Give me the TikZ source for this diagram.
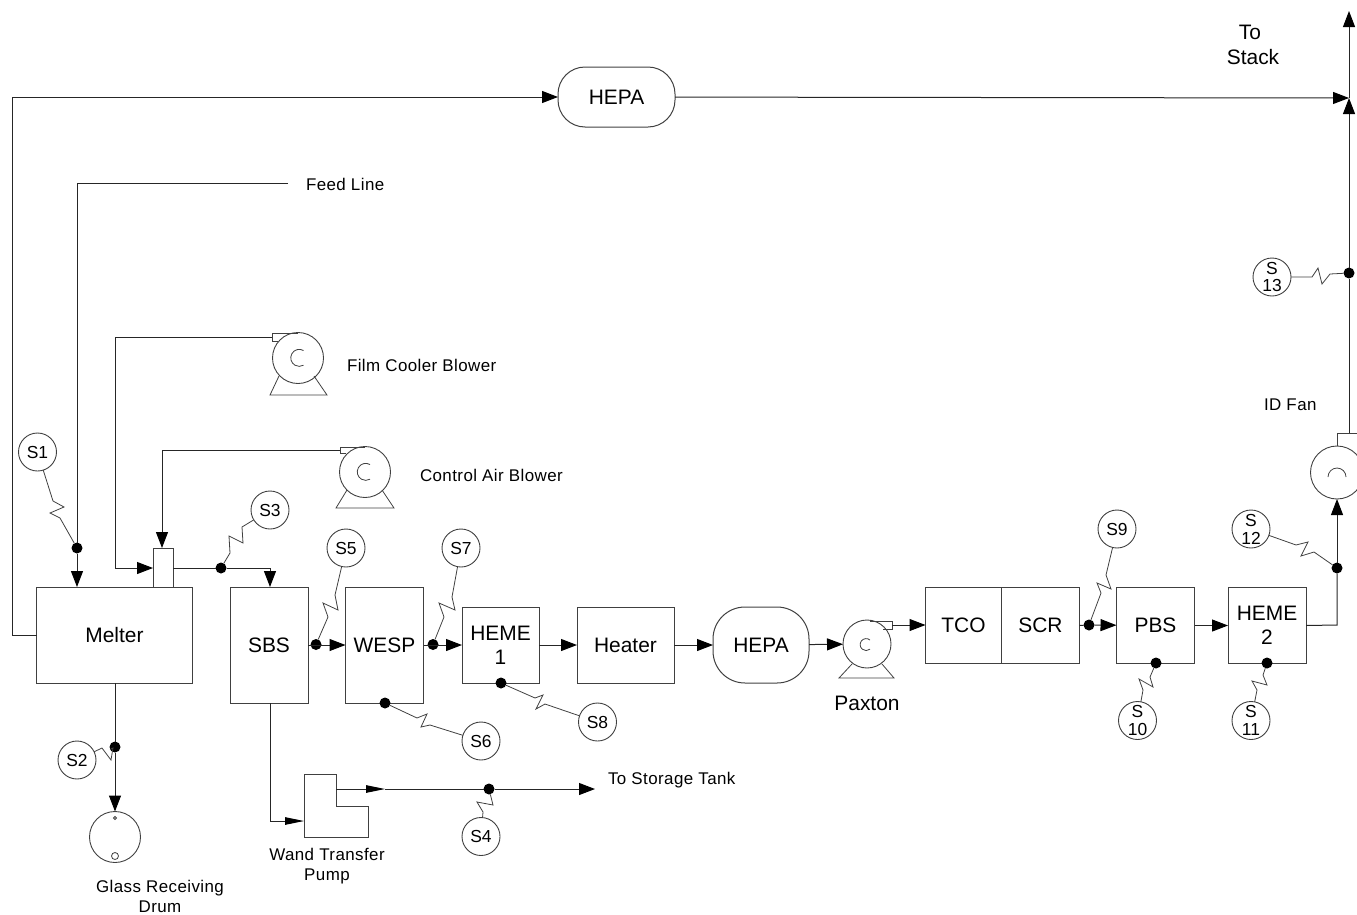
\documentclass[tikz,border=0pt]{standalone}
\usepackage{fontspec}
\setmainfont{Liberation Sans}
\newfontfamily\lblfont[LetterSpace=2.5]{Liberation Sans}
\usetikzlibrary{arrows.meta}
\definecolor{ln}{gray}{0.25}
\tikzset{
  x=1bp,y=-1bp,
  every node/.style={inner sep=0pt,outer sep=0pt},
  big/.style={font=\fontsize{21}{24.5}\selectfont,align=center},
  small/.style={font=\lblfont\fontsize{17}{20}\selectfont,align=center},
  unit/.style={draw=ln,line width=1bp,big,text=black},
  hepaA/.style={unit,minimum width=117bp,minimum height=60bp,rounded corners=27bp},
  hepaB/.style={unit,minimum width=96bp,minimum height=76bp,rounded corners=32bp},
  samp/.style={draw=ln,circle,line width=.9bp,minimum size=38bp,font=\fontsize{17.5}{18}\selectfont,align=center,text=black},
  dotn/.style={circle,fill=black,minimum size=11bp},
  pipe/.style={draw=black!85,line width=1bp},
  flow/.style={pipe,-{Triangle[length=16bp,width=12bp,black]}},
  flowlong/.style={pipe,-{Triangle[length=19bp,width=7.5bp,black]}},
  probe/.style={draw=ln,line width=.8bp,line join=miter},
  blowbody/.style={draw=ln,line width=.9bp,circle},
  thin/.style={draw=ln,line width=.8bp},
}
\begin{document}
\begin{tikzpicture}
\useasboundingbox (0,0) rectangle (1357,914);

% --- equipment boxes
\node[unit,minimum width=155bp,minimum height=96bp] (melter) at (114.5,635) {Melter};
\node[unit,minimum width=78bp,minimum height=116bp] (sbs) at (269,645) {SBS};
\node[unit,minimum width=78bp,minimum height=116bp] (wesp) at (384.5,645) {WESP};
\node[unit,minimum width=77bp,minimum height=76bp] (heme1) at (500.5,645) {HEME\\1};
\node[unit,minimum width=97bp,minimum height=76bp] (heater) at (625.5,645) {Heater};
\node[hepaB] (hepab) at (761,645) {HEPA};
\node[hepaA] (hepaa) at (616.5,97) {HEPA};
\node[unit,minimum width=76bp,minimum height=76bp] (tco) at (963.5,625.5) {TCO};
\node[unit,minimum width=78bp,minimum height=76bp] (scr) at (1040.5,625.5) {SCR};
\node[unit,minimum width=78bp,minimum height=76bp] (pbs) at (1155.5,625.5) {PBS};
\node[unit,minimum width=78bp,minimum height=76bp] (heme2) at (1267,625.5) {HEME\\2};
\node[draw=ln,line width=1bp,minimum width=20bp,minimum height=39bp] (stub) at (163,567.5) {};

% --- wand transfer pump
\draw[thin,line width=1bp] (304,774) -- (336,774) -- (336,806) -- (368,806) -- (368,837) -- (304,837) -- cycle;
\coordinate (pumpin) at (304,821);
\coordinate (pumpout) at (336,789);

% --- drum
\node[blowbody,minimum size=51bp] (drum) at (115,837) {};
\node[thin,circle,minimum size=3bp] (drumA) at (115,818) {};
\node[thin,circle,minimum size=7bp] (drumB) at (115,856) {};

% --- blowers
\node[blowbody,minimum size=51bp] (film) at (298,358) {};
\draw[thin] (298,333) -- (272,333) -- (272,341) -- (278,341);
\draw[thin] (303.5,350.5) arc[start angle=60,end angle=300,radius=8.5bp];
\draw[thin] (279,376) -- (270,395) -- (327,395) -- (314,376);
\coordinate (filmout) at (272,337);

\node[blowbody,minimum size=51bp] (ctrl) at (365,472) {};
\draw[thin] (365,447) -- (340,447) -- (340,453.5) -- (346,453.5);
\draw[thin] (370,464.5) arc[start angle=60,end angle=300,radius=8.5bp];
\draw[thin] (347,490) -- (336,508) -- (394,508) -- (382,490);
\coordinate (ctrlout) at (340,450);

\node[blowbody,minimum size=48bp] (paxton) at (867,644) {};
\draw[thin] (870,621) -- (892,621) -- (892,629) -- (883,629);
\draw[thin] (870,640) arc[start angle=50,end angle=310,radius=6bp];
\draw[thin] (852,664) -- (839,678) -- (894,678) -- (882,664);
\coordinate (paxout) at (892,625);

\node[blowbody,minimum size=53bp] (idfan) at (1337,472.5) {};
\draw[thin,line width=1bp] (1337,446) -- (1337,433) -- (1357,433);
\draw[thin] (1328,477) arc[start angle=180,end angle=0,radius=9bp];
\coordinate (fanout) at (1349,433);

% --- junction dots
\node[dotn] (d1) at (77,548) {};
\node[dotn] (d2) at (115,747) {};
\node[dotn] (d3) at (221,568) {};
\node[dotn] (d4) at (489,789) {};
\node[dotn] (d5) at (316,644.5) {};
\node[dotn] (d6) at (385,703) {};
\node[dotn] (d7) at (433,644.5) {};
\node[dotn] (d8) at (501,683) {};
\node[dotn] (d9) at (1089,625) {};
\node[dotn] (d10) at (1156,663) {};
\node[dotn] (d11) at (1267,663) {};
\node[dotn] (d12) at (1337,568) {};
\node[dotn] (d13) at (1349,273) {};

% --- sample circles
\node[samp] (s1) at (37.5,452) {S1};
\node[samp] (s2) at (77,760) {S2};
\node[samp] (s3) at (270,510) {S3};
\node[samp] (s4) at (481,836.5) {S4};
\node[samp] (s5) at (346,548) {S5};
\node[samp] (s6) at (481,741) {S6};
\node[samp] (s7) at (461,548) {S7};
\node[samp] (s8) at (597.5,722) {S8};
\node[samp] (s9) at (1117,529) {S9};
\node[samp] (s10) at (1137.5,720.5) {S\\10};
\node[samp] (s11) at (1251,720.5) {S\\11};
\node[samp] (s12) at (1251,529) {S\\12};
\node[samp] (s13) at (1272,277) {S\\13};

% --- sample probes
\draw[probe] (s1) -- (53,501) -- (64,507) -- (50,513) -- (60,518) -- (d1);
\draw[probe] (s2) -- (102,748) -- (111,760) -- (113,748) -- (d2);
\draw[probe] (s3) -- (242,527) -- (243,543) -- (229,536) -- (230,553) -- (d3);
\draw[probe] (s4) -- (483,812) -- (477,802) -- (493,805) -- (d4);
\draw[probe] (s5) -- (335,595) -- (338,610) -- (323,603) -- (328,617) -- (d5);
\draw[probe] (s6) -- (430,725) -- (421,727) -- (427,714) -- (417,718) -- (d6);
\draw[probe] (s7) -- (452,597) -- (455,610) -- (439,603) -- (444,617) -- (d7);
\draw[probe] (s8) -- (545,704) -- (536,709) -- (543,695) -- (535,698) -- (d8);
\draw[probe] (s9) -- (1106,575) -- (1111,589) -- (1097,583) -- (1101,593) -- (d9);
\draw[probe] (s10) -- (1143,690) -- (1139,679) -- (1153,687) -- (1150,677) -- (d10);
\draw[probe] (s11) -- (1257,690) -- (1252,681) -- (1267,685) -- (1263,675) -- (d11);
\draw[probe] (s12) -- (1296,545) -- (1308,542) -- (1301,556) -- (1314,552) -- (d12);
\draw[probe] (s13) -- (1312,277) -- (1318,268) -- (1322,284) -- (1330,274) -- (d13);

% --- named route points
\coordinate (feed) at (288,183);
\coordinate (feedc) at (77,183);
\coordinate (melttop1) at (77,587);
\coordinate (stubin) at (153,568);
\coordinate (filmc) at (115,337);
\coordinate (filmd) at (115,568);
\coordinate (ctrlc) at (162,450);
\coordinate (stubtop) at (162,548);
\coordinate (stubout) at (173,568);
\coordinate (sbsc) at (270,568);
\coordinate (sbstop) at (270,587);
\coordinate (bypassA) at (12,635);
\coordinate (bypassB) at (12,97);
\coordinate (join) at (1349,98);
\coordinate (stack) at (1349,11);
\coordinate (sbsbot) at (270,703);
\coordinate (sbsd) at (270,821);
\coordinate (melbot) at (115,683);
\coordinate (pumpmid) at (385,789);
\coordinate (storage) at (595,789);
\coordinate (fanin) at (1337,625);
\coordinate (tcoin) at (925.5,625);

% --- pipes
\draw[pipe] (feed) -- (feedc) -- (d1);
\draw[flow] (d1) -- (melttop1);
\draw[pipe] (filmout) -- (filmc) -- (filmd);
\draw[flow] (filmd) -- (stubin);
\draw[pipe] (ctrlout) -- (ctrlc);
\draw[flow] (ctrlc) -- (stubtop);
\draw[pipe] (stubout) -- (d3) -- (sbsc);
\draw[flow] (sbsc) -- (sbstop);
\draw[flow] (sbs.east) -- (wesp.west);
\draw[flow] (wesp.east) -- (heme1.west);
\draw[flow] (heme1) -- (heater);
\draw[flow] (heater) -- (hepab);
\draw[flow] (hepab) -- (paxton);
\draw[flow] (paxout) -- (tcoin);
\draw[pipe] (scr.east) -- (d9);
\draw[flow] (d9) -- (pbs);
\draw[flow] (pbs) -- (heme2);
\draw[pipe] (heme2.east) -- (fanin) -- (d12);
\draw[flow] (d12) -- (idfan);
\draw[pipe] (fanout) -- (d13);
\draw[flow] (d13) -- (join);
\draw[flow] (join) -- (stack);
\draw[pipe] (melter.west) -- (bypassA) -- (bypassB);
\draw[flow] (bypassB) -- (hepaa);
\draw[flow] (hepaa) -- (join);
\draw[pipe] (melbot) -- (d2);
\draw[flow] (d2) -- (drum);
\draw[pipe] (sbsbot) -- (sbsd);
\draw[flowlong] (sbsd) -- (pumpin);
\draw[flowlong] (pumpout) -- (pumpmid);
\draw[pipe] (pumpmid) -- (d4);
\draw[flow] (d4) -- (storage);

% --- labels
\node[small,anchor=west] (lfeed) at (306,184) {Feed Line};
\node[small,anchor=west] (lfilm) at (347,365) {Film Cooler Blower};
\node[small,anchor=west] (lctrl) at (420,475.5) {Control Air Blower};
\node[small,anchor=west] (lid) at (1264,405) {ID Fan};
\node[small,anchor=west] (lstore) at (608,780) {To Storage Tank};
\node[small] (lwand) at (327,866) {Wand Transfer\\Pump};
\node[small] (lglass) at (160,896.5) {Glass Receiving\\Drum};
\node[big] (lpax) at (867,703) {Paxton};
\node[big] (lstack) at (1253,45) {\hspace*{-6bp}To\\Stack};
\end{tikzpicture}
\end{document}
